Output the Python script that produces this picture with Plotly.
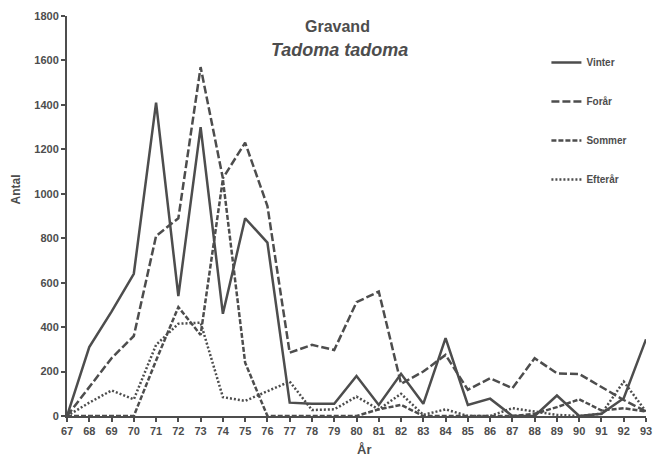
import plotly.graph_objects as go

# Gravand (Tadorna tadorna) counts per season, 1967-1993
years = list(range(67, 94))
tick_labels = [str(y) for y in years]

vinter = [0, 310, 470, 640, 1410, 540, 1300, 460, 890, 780, 60, 55, 55, 180,
          50, 190, 55, 350, 50, 78, 0, 0, 92, 0, 10, 80, 345]
foraar = [0, 130, 260, 360, 810, 890, 1570, 1070, 1230, 945, 285, 320, 297, 512,
          560, 145, 200, 275, 118, 170, 125, 260, 192, 189, 132, 72, 20]
sommer = [0, 0, 0, 0, 250, 490, 365, 1065, 240, 0, 0, 0, 0, 0,
          30, 50, 0, 0, 0, 0, 0, 10, 40, 75, 25, 35, 20]
efteraar = [0, 60, 115, 75, 320, 415, 420, 85, 68, 110, 155, 27, 30, 87,
            30, 100, 5, 30, 0, 0, 35, 20, 5, 0, 10, 155, 20]

series = [
    ("Vinter", vinter, "solid"),
    ("Forår", foraar, "8px,3px"),
    ("Sommer", sommer, "5px,2px"),
    ("Efterår", efteraar, "2px,2px"),
]

ink = "#4d4d4d"
fig = go.Figure()
for i, (name, vals, dash) in enumerate(series):
    fig.add_trace(go.Scatter(
        x=years, y=vals, name=f"<b>{name}</b>", mode="lines",
        line=dict(color=ink, width=2.5, dash=dash),
        legendgroup=f"g{i}",
    ))

axis_font = dict(family="Liberation Sans", size=11, color=ink, weight="bold")

fig.update_layout(
    width=659, height=456,
    margin=dict(l=67, r=7, t=16, b=40),
    paper_bgcolor="white", plot_bgcolor="white",
    font=dict(family="Liberation Sans", color=ink),
    showlegend=True,
    legend=dict(
        x=0.828, y=0.92, xanchor="left", yanchor="top",
        font=dict(family="Liberation Sans", size=10, color=ink),
        itemwidth=30, tracegroupgap=20, bgcolor="rgba(0,0,0,0)",
    ),
    xaxis=dict(
        range=[67, 93], tickmode="array", tickvals=years, ticktext=tick_labels,
        showgrid=False, zeroline=False, showline=True, linecolor=ink, linewidth=2,
        ticks="outside", ticklen=4, tickwidth=1.5, tickcolor=ink,
        tickfont=axis_font,
    ),
    yaxis=dict(
        range=[0, 1800], tickmode="linear", tick0=0, dtick=200,
        showgrid=False, zeroline=False, showline=True, linecolor=ink, linewidth=2,
        ticks="outside", ticklen=4, tickwidth=1.5, tickcolor=ink,
        tickfont=axis_font,
    ),
    annotations=[
        dict(text="Gravand", x=0.468, y=0.9725, xref="paper", yref="paper",
             xanchor="center", yanchor="middle", showarrow=False,
             font=dict(size=16, color=ink, weight="bold")),
        dict(text="<i>Tadoma tadoma</i>", x=0.47, y=0.915, xref="paper", yref="paper",
             xanchor="center", yanchor="middle", showarrow=False,
             font=dict(size=18, color=ink, weight="bold")),
        dict(text="Antal", x=-0.0889, y=0.565, xref="paper", yref="paper",
             xanchor="center", yanchor="middle", textangle=-90, showarrow=False,
             font=dict(size=12, color=ink, weight="bold")),
        dict(text="År", x=0.513, y=-0.0825, xref="paper", yref="paper",
             xanchor="center", yanchor="middle", showarrow=False,
             font=dict(size=13, color=ink, weight="bold")),
    ],
)

fig.write_html("out.html")
